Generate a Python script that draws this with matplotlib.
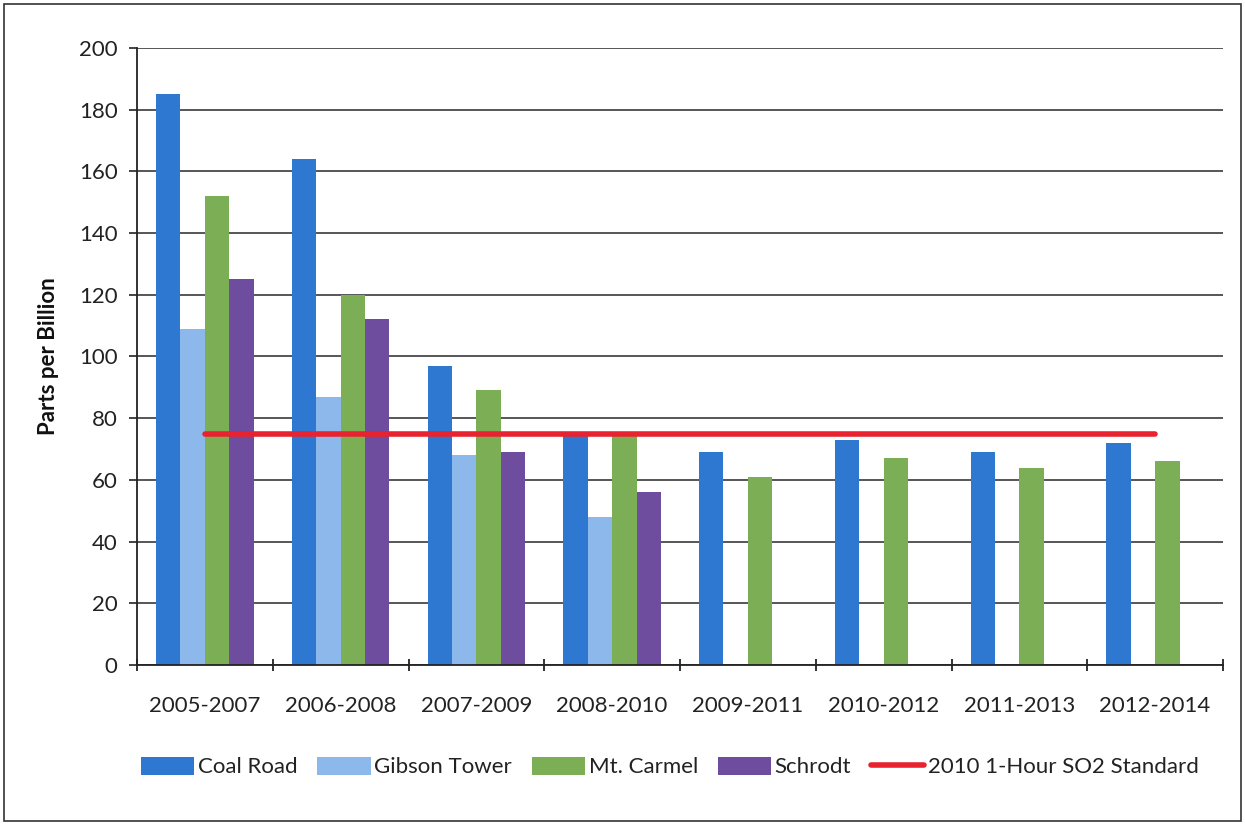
import numpy as np
import matplotlib.pyplot as plt
from matplotlib.patches import Rectangle

plt.rcParams['font.family'] = ['Lato', 'DejaVu Sans']

# data
periods = ['2005-2007', '2006-2008', '2007-2009', '2008-2010',
           '2009-2011', '2010-2012', '2011-2013', '2012-2014']
coal_road = [185, 164, 97, 75, 69, 73, 69, 72]
gibson_tower = [109, 87, 68, 48, np.nan, np.nan, np.nan, np.nan]
mt_carmel = [152, 120, 89, 75, 61, 67, 64, 66]
schrodt = [125, 112, 69, 56, np.nan, np.nan, np.nan, np.nan]
standard = [75] * len(periods)

series = [('Coal Road', coal_road, '#2F78D2'),
          ('Gibson Tower', gibson_tower, '#8DB8EC'),
          ('Mt. Carmel', mt_carmel, '#7CAE55'),
          ('Schrodt', schrodt, '#6E4C9E')]

fig = plt.figure(figsize=(12.45, 8.25), dpi=100)
ax = fig.add_axes([137 / 1245, 1 - 665 / 825, (1223 - 137) / 1245, (665 - 48) / 825])

x = np.arange(len(periods))
w = 0.18
handles = []
for i, (name, vals, col) in enumerate(series):
    h = ax.bar(x + (i - 1.5) * w, vals, w, color=col, label=name, zorder=2)
    handles.append(h)

ln, = ax.plot(x, standard, color='#E8222E', lw=4, solid_capstyle='round',
              label='2010 1-Hour SO2 Standard', zorder=3)
handles.append(ln)

ax.set_xlim(-0.5, len(periods) - 0.5)
ax.set_ylim(0, 200)
ax.set_yticks(range(0, 201, 20))
ax.set_xticks(x)
ax.set_xticklabels(periods)
ax.set_xticks(np.arange(-0.5, len(periods)), minor=True)
ax.tick_params(axis='x', which='major', length=0, pad=22, labelsize=16, colors='#222222')
ax.tick_params(axis='x', which='minor', length=8, width=1.3, direction='inout', color='#222222')
ax.tick_params(axis='y', length=6, width=1.2, pad=8, labelsize=16, color='#222222', labelcolor='#222222')
ax.grid(axis='y', color='#3a3a3a', lw=1.2, zorder=0)
for s in ['top', 'right']:
    ax.spines[s].set_visible(False)
for s in ['left', 'bottom']:
    ax.spines[s].set_color('#222222')
    ax.spines[s].set_linewidth(1.3)
ax.set_ylabel('Parts per Billion', fontsize=16, fontweight='bold', labelpad=14, color='#111111')

leg = fig.legend(handles=handles, loc='center', bbox_to_anchor=(0.538, 1 - 767 / 825), ncol=5,
                 frameon=False, fontsize=16, handlelength=2.4, handleheight=0.9,
                 handletextpad=0.15, columnspacing=0.9)
for t in leg.get_texts():
    t.set_color('#222222')

fig.patches.append(Rectangle((4 / 1245, 4 / 825), 1 - 8 / 1245, 1 - 8 / 825,
                             transform=fig.transFigure, fill=False,
                             edgecolor='#333333', lw=1.2))

fig.savefig('out.png', dpi=100)
